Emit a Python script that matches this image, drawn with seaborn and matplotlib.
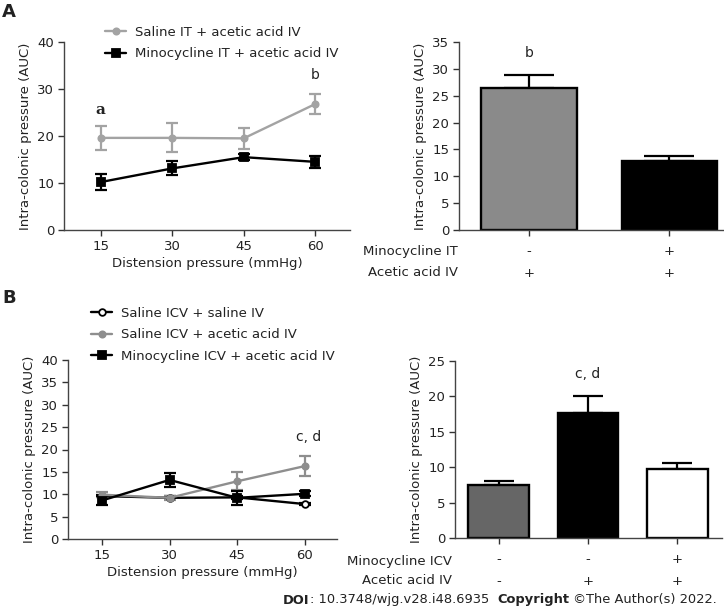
import matplotlib
matplotlib.use("Agg")
import numpy as np
import pandas as pd
import matplotlib.pyplot as plt
import seaborn as sns

# x positions of the time-course plots
distension = [15, 30, 45, 60]

# Panel A, intrathecal (IT) time course
saline_it_mean = [19.6, 19.6, 19.5, 26.8]
saline_it_sem = [2.5, 3.1, 2.2, 2.2]
mino_it_mean = [10.2, 13.1, 15.5, 14.5]
mino_it_sem = [1.7, 1.5, 0.6, 1.3]

# Panel A, total AUC bars
a_groups = ["-\n+", "+\n+"]
a_bar_mean = [26.4, 12.9]
a_bar_sem = [2.4, 0.9]

# Panel B, intracerebroventricular (ICV) time course
sal_sal_mean = [9.6, 9.2, 9.3, 7.8]
sal_sal_sem = [0.3, 0.3, 0.3, 0.3]
sal_aa_mean = [9.9, 9.2, 12.9, 16.3]
sal_aa_sem = [0.6, 0.4, 2.0, 2.3]
mino_icv_mean = [8.6, 13.2, 9.2, 10.1]
mino_icv_sem = [1.0, 1.6, 1.5, 0.6]

# Panel B, total AUC bars
b_groups = ["-\n-", "-\n+", "+\n+"]
b_bar_mean = [7.5, 17.7, 9.7]
b_bar_sem = [0.6, 2.4, 0.9]

sns.set_style("ticks")
plt.rcParams["font.family"] = ["DejaVu Sans"]
plt.rcParams["font.size"] = 9.5
plt.rcParams["text.color"] = "#222222"
plt.rcParams["axes.labelcolor"] = "#222222"
plt.rcParams["xtick.color"] = "#333333"
plt.rcParams["ytick.color"] = "#333333"
plt.rcParams["xtick.labelcolor"] = "#222222"
plt.rcParams["ytick.labelcolor"] = "#222222"

W, H = 724, 612
GRAY_A = "#a3a3a3"
GRAY_B = "#8e8e8e"


def px_axes(fig, left, top, right, bottom):
    return fig.add_axes([left / W, 1 - bottom / H, (right - left) / W, (bottom - top) / H])


def style_axes(ax):
    sns.despine(ax=ax)
    for side in ["left", "bottom"]:
        ax.spines[side].set_color("#444444")
        ax.spines[side].set_linewidth(1.0)
    ax.tick_params(direction="out", length=4, width=1, labelsize=9.5, pad=3)


def line_series(ax, mean, sem, color, marker, label, ms, mfc=None):
    df = pd.DataFrame({"x": distension, "y": mean})
    ax.errorbar(distension, mean, yerr=sem, fmt="none", ecolor=color,
                elinewidth=1.6, capsize=4, capthick=1.6, zorder=2)
    sns.lineplot(data=df, x="x", y="y", ax=ax, color=color, linewidth=1.7,
                 marker=marker, markersize=ms, markeredgecolor=color,
                 markerfacecolor=mfc if mfc else color, markeredgewidth=1.3,
                 label=label, zorder=3)


def bar_panel(ax, groups, means, sems, colors, capsize):
    df = pd.DataFrame({"group": groups, "value": means})
    sns.barplot(data=df, x="group", y="value", hue="group", palette=colors,
                edgecolor="black", linewidth=1.7, width=0.68, legend=False,
                ax=ax, zorder=2)
    pos = np.arange(len(groups))
    ax.errorbar(pos, means, yerr=[np.zeros(len(sems)), sems], fmt="none",
                ecolor="black", elinewidth=1.6, capsize=capsize, capthick=1.6, zorder=1)
    ax.set_xlabel("")
    ax.set_ylabel("Intra-colonic pressure (AUC)")
    for lab in ax.get_xticklabels():
        lab.set_linespacing(1.85)


fig = plt.figure(figsize=(W / 100, H / 100), dpi=100)

# ---- Panel A left ----
ax1 = px_axes(fig, 64, 42, 350, 230)
line_series(ax1, saline_it_mean, saline_it_sem, GRAY_A, "o", "Saline IT + acetic acid IV", 4.5)
line_series(ax1, mino_it_mean, mino_it_sem, "black", "s", "Minocycline IT + acetic acid IV", 5.3)
ax1.set_xlim(7.3, 67.3)
ax1.set_ylim(0, 40)
ax1.set_xticks(distension)
ax1.set_yticks([0, 10, 20, 30, 40])
ax1.set_xlabel("Distension pressure (mmHg)", labelpad=3)
ax1.set_ylabel("Intra-colonic pressure (AUC)")
style_axes(ax1)
ax1.text(15, 25.5, "a", ha="center", va="center", fontsize=11, fontweight="bold",
         family=["DejaVu Serif"])
ax1.text(60, 33.0, "b", ha="center", va="center", fontsize=10)
ax1.legend(loc="upper left", bbox_to_anchor=(105 / W, 1 - 26 / H), bbox_transform=fig.transFigure,
           frameon=False, fontsize=9.5, handlelength=1.6, handletextpad=0.7,
           labelspacing=0.62, borderpad=0, borderaxespad=0)

# ---- Panel A right ----
ax2 = px_axes(fig, 459, 42, 724, 230)
bar_panel(ax2, a_groups, a_bar_mean, a_bar_sem, ["#8a8a8a", "black"], 18)
ax2.set_xlim(-0.5, 1.39)
ax2.set_ylim(0, 35)
ax2.set_yticks(range(0, 36, 5))
style_axes(ax2)
ax2.tick_params(axis="x", pad=7)
ax2.text(0, 33.0, "b", ha="center", va="center", fontsize=10)
fig.text(458 / W, 1 - 252 / H, "Minocycline IT", ha="right", va="center", fontsize=9.5)
fig.text(458 / W, 1 - 273 / H, "Acetic acid IV", ha="right", va="center", fontsize=9.5)

# ---- Panel B left ----
ax3 = px_axes(fig, 68, 360, 337, 539)
line_series(ax3, sal_sal_mean, sal_sal_sem, "black", "o", "Saline ICV + saline IV", 4.8, mfc="white")
line_series(ax3, sal_aa_mean, sal_aa_sem, GRAY_B, "o", "Saline ICV + acetic acid IV", 4.5)
line_series(ax3, mino_icv_mean, mino_icv_sem, "black", "s", "Minocycline ICV + acetic acid IV", 5.3)
ax3.set_xlim(7.5, 67.1)
ax3.set_ylim(0, 40)
ax3.set_xticks(distension)
ax3.set_yticks(range(0, 41, 5))
ax3.set_xlabel("Distension pressure (mmHg)", labelpad=3)
ax3.set_ylabel("Intra-colonic pressure (AUC)")
style_axes(ax3)
ax3.text(60.8, 22.9, "c, d", ha="center", va="center", fontsize=10)
ax3.legend(loc="upper left", bbox_to_anchor=(91 / W, 1 - 307 / H), bbox_transform=fig.transFigure,
           frameon=False, fontsize=9.5, handlelength=1.6, handletextpad=0.7,
           labelspacing=0.64, borderpad=0, borderaxespad=0)

# ---- Panel B right ----
ax4 = px_axes(fig, 455, 361, 722, 538)
bar_panel(ax4, b_groups, b_bar_mean, b_bar_sem, ["#666666", "black", "white"], 11)
ax4.set_xlim(-0.487, 2.5)
ax4.set_ylim(0, 25)
ax4.set_yticks(range(0, 26, 5))
style_axes(ax4)
ax4.tick_params(axis="x", pad=7)
ax4.text(1, 23.1, "c, d", ha="center", va="center", fontsize=10)
fig.text(452 / W, 1 - 561 / H, "Minocycline ICV", ha="right", va="center", fontsize=9.5)
fig.text(452 / W, 1 - 581 / H, "Acetic acid IV", ha="right", va="center", fontsize=9.5)

# panel letters
fig.text(2 / W, 1 - 12 / H, "A", ha="left", va="center", fontsize=13, fontweight="bold")
fig.text(2 / W, 1 - 298 / H, "B", ha="left", va="center", fontsize=13, fontweight="bold")

# footer: pieces chained left to right so the bold words sit inline
pieces = [("DOI", "bold"), (": 10.3748/wjg.v28.i48.6935  ", "normal"),
          ("Copyright", "bold"), (" \u00a9The Author(s) 2022.", "normal")]
anchor = fig.text(283 / W, 1 - 600 / H, pieces[0][0], ha="left", va="center",
                  fontsize=9.4, fontweight=pieces[0][1])
for txt, weight in pieces[1:]:
    anchor = ax1.annotate(txt, xy=(1, 0), xycoords=anchor, ha="left", va="bottom",
                          fontsize=9.4, fontweight=weight, annotation_clip=False)

fig.savefig("out.png", dpi=100)
